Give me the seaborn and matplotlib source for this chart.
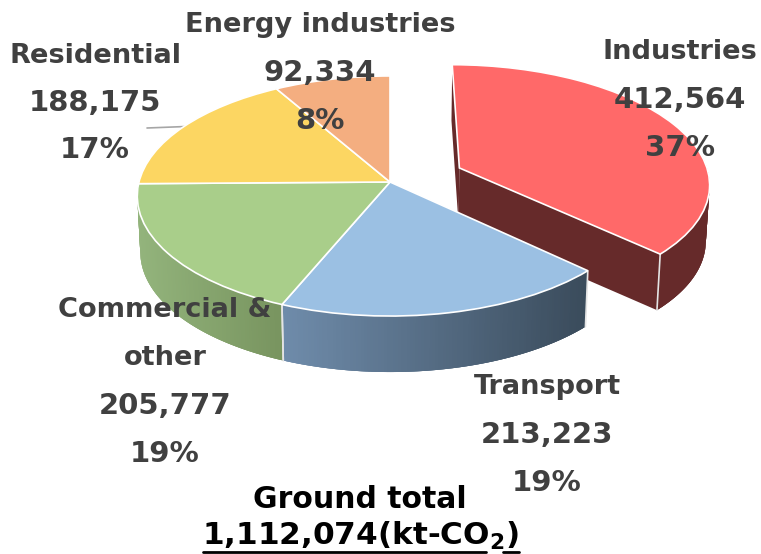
import numpy as np
import matplotlib
matplotlib.use("Agg")
import matplotlib.pyplot as plt
import seaborn as sns
from matplotlib.transforms import Transform

# Valores (kt-CO2), em sentido horário a partir do topo
categories = ['Industries', 'Transport', 'Commercial &\nother', 'Residential', 'Energy industries']
values = [412564, 213223, 205777, 188175, 92334]
percent_labels = ['37%', '19%', '19%', '17%', '8%']
value_labels = ['412,564', '213,223', '205,777', '188,175', '92,334']
explode = [0.305, 0, 0, 0, 0]
top_colors = ['#ff6969', '#9bc0e3', '#a9ce8a', '#fcd662', '#f4ae80']
side_left = ['#662a2a', '#6f8cab', '#93b47c', '#b09545', '#a87a5a']
side_right = ['#662a2a', '#3a4b5b', '#78945f', '#b09545', '#a87a5a']

total_label = 'Ground total'
total_value = '1,112,074(kt-CO$_2$)'

# Geometria da projeção, em pixels
CX, CY = 390, 182
RX, RY = 251, 118.4
K = 0.1167
DEPTH = 56


def project(u, v, drop=0.0):
    s = 1 / (1 + K * v)
    x = CX + RX * u * s * (1 - 0.012 * drop / DEPTH)
    y = CY - RY * v * s + drop
    return x, y


class PiePerspective(Transform):
    input_dims = 2
    output_dims = 2
    is_separable = False
    has_inverse = False

    def transform_non_affine(self, values):
        pts = np.asarray(values)
        x, y = project(pts[:, 0], pts[:, 1])
        return np.column_stack([x, y])


sns.set_theme(style='white')
plt.rcParams['font.family'] = ['DejaVu Sans']
plt.rcParams['mathtext.default'] = 'bf'

fig = plt.figure(figsize=(7.61, 5.54), dpi=100)
ax = fig.add_axes([0, 0, 1, 1])

wedges, _ = ax.pie(values, explode=explode, startangle=90, counterclock=False,
                   colors=top_colors, wedgeprops={'edgecolor': 'white', 'linewidth': 1.2})
ax.set_aspect('auto')
ax.set_xlim(0, 761)
ax.set_ylim(554, 0)
ax.axis('off')

persp = PiePerspective()


def draw_rim(center, c0, c1, th0, th1, z):
    # lateral curva em faixas sobrepostas, gradiente da esquerda para a direita
    n = 120
    angles = np.linspace(th0, th1, n)
    ramp = sns.blend_palette([c0, c1], n)
    us = center[0] + np.cos(np.radians(angles))
    vs = center[1] + np.sin(np.radians(angles))
    xt, yt = project(us, vs)
    xb, yb = project(us, vs, DEPTH)
    lo, hi = xt.min(), xt.max()
    order = np.argsort(xt)
    for i in order[:-1]:
        j = min(i + 2, n - 1)
        k = max(i - 1, 0)
        col = ramp[int((xt[i] - lo) / max(hi - lo, 1) * (n - 1))]
        ax.fill([xt[k], xt[j], xb[j], xb[k]], [yt[k], yt[j], yb[j], yb[k]],
                facecolor=col, edgecolor='none', zorder=z)


def draw_cut(center, theta, color, z):
    # face de corte, do centro da fatia até a borda
    ue = center[0] + np.cos(np.radians(theta))
    ve = center[1] + np.sin(np.radians(theta))
    u = np.array([center[0], ue])
    v = np.array([center[1], ve])
    xt, yt = project(u, v)
    xb, yb = project(u, v, DEPTH)
    ax.fill(np.r_[xt, xb[::-1]], np.r_[yt, yb[::-1]], facecolor=color, edgecolor='none', zorder=z)


def draw_sep(center, theta, z):
    ue = center[0] + np.cos(np.radians(theta))
    ve = center[1] + np.sin(np.radians(theta))
    xt, yt = project(ue, ve)
    xb, yb = project(ue, ve, DEPTH)
    ax.plot([xt, xb], [yt, yb], color='#e4e4e4', lw=1.2, zorder=z)


for idx, w in enumerate(wedges):
    th0, th1 = w.theta1, w.theta2
    w.set_transform(persp + ax.transData)
    if idx == 0:
        # fatia destacada fica atrás do resto
        w.set_zorder(4)
        draw_cut(w.center, th1, side_left[idx], 2)
        draw_cut(w.center, th0, side_left[idx], 2)
        draw_rim(w.center, side_left[idx], side_right[idx], th0, th1 if th1 < 90 else 10, 3)
        draw_sep(w.center, th0, 3.5)
    else:
        w.set_zorder(8)
        # só as fatias da frente mostram a lateral
        if np.sin(np.radians((th0 + th1) / 2)) < 0:
            draw_rim(w.center, side_left[idx], side_right[idx], th0, th1, 6)
        for th in (th0, th1):
            if np.sin(np.radians(th)) < -0.05:
                draw_sep(w.center, th, 7)

# Linha de chamada de Residential
ax.plot([147, 186], [128, 126.5], color='#a6a6a6', lw=1.2, zorder=4)

# Rótulos
TXT = '#404040'
label_pos = [(680, 52, 48), (547, 387, 48), (165, 310, 48), (95, 56, 47), (320, 25, 48)]
for i, (x, y, step) in enumerate(label_pos):
    names = categories[i].split('\n')
    for j, line in enumerate(names):
        ax.text(x, y + j * step, line, ha='center', va='center', color=TXT,
                fontsize=19.6, fontweight='bold', zorder=20)
    for j, line in enumerate([value_labels[i], percent_labels[i]]):
        ax.text(x, y + (j + len(names)) * step, line, ha='center', va='center', color=TXT,
                fontsize=21, fontweight='bold', zorder=20)

ax.text(360, 499, total_label, ha='center', va='center', color='black',
        fontsize=21.5, fontweight='bold', zorder=20)
ax.text(361, 536, total_value, ha='center', va='center', color='black',
        fontsize=22.4, fontweight='bold', zorder=20)
ax.plot([203, 486], [552, 552], color='black', lw=2, zorder=20)
ax.plot([503, 519], [552, 552], color='black', lw=2, zorder=20)

fig.savefig('out.png', dpi=100)
